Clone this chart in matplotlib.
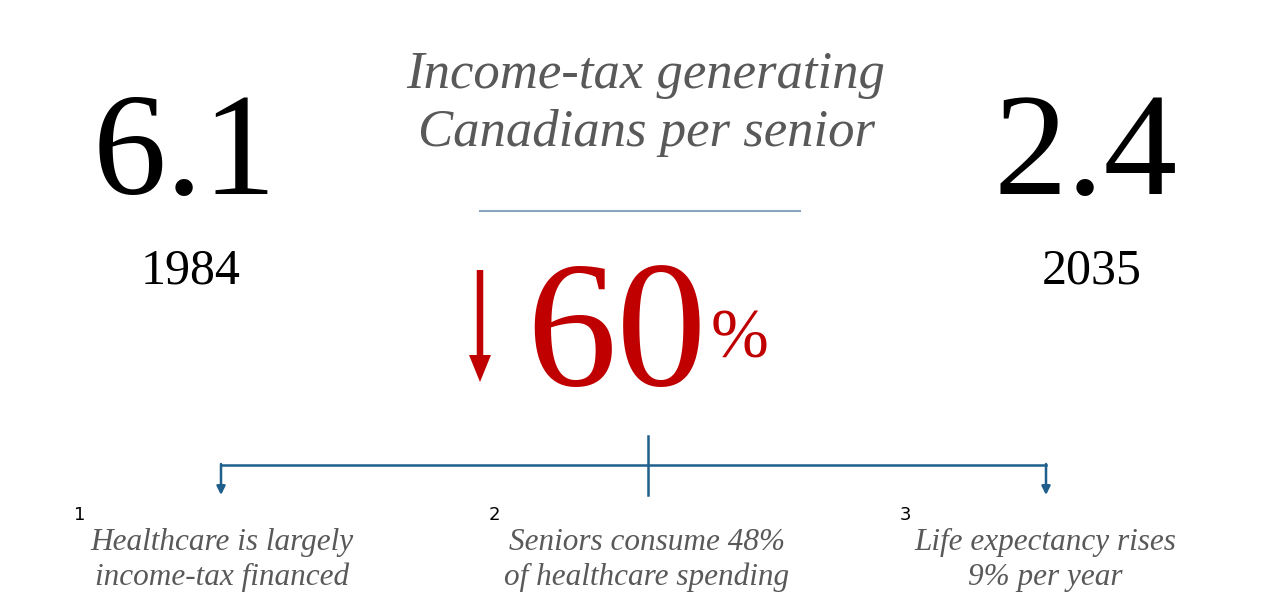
import matplotlib
matplotlib.use("Agg")
import matplotlib.pyplot as plt
from matplotlib.patches import FancyArrow

# data
years = ["1984", "2035"]
ratios = ["6.1", "2.4"]
title_lines = ["Income-tax generating", "Canadians per senior"]
drop_pct = "60"
notes = ["Healthcare is largely\nincome-tax financed",
         "Seniors consume 48%\nof healthcare spending",
         "Life expectancy rises\n9% per year"]
note_nums = ["1", "2", "3"]

SERIF = "Liberation Serif"
GREY = "#595959"
RED = "#c00000"
BLUE = "#1f5f8b"

fig = plt.figure(figsize=(12.8, 6.15), dpi=100)
ax = fig.add_axes([0, 0, 1, 1])
ax.set_xlim(0, 1280)
ax.set_ylim(615, 0)
ax.axis("off")

# big numbers + years
for x, r, yr in zip([185, 1086], ratios, years):
    ax.text(x, 194, r, fontsize=106, family=SERIF, ha="center", va="baseline", color="black")
    ax.text(x + 6, 283, yr, fontsize=36, family=SERIF, ha="center", va="baseline", color="black")

# title
ax.text(646, 88, title_lines[0], fontsize=38, family=SERIF, style="italic",
        ha="center", va="baseline", color=GREY)
ax.text(646, 146, title_lines[1], fontsize=38, family=SERIF, style="italic",
        ha="center", va="baseline", color=GREY)
ax.plot([480, 800], [211, 211], color="#8aa4bf", lw=1.5)

# 60% with arrow
ax.text(617, 385, drop_pct, fontsize=130, family=SERIF, ha="center", va="baseline", color=RED)
ax.text(740, 358, "%", fontsize=50, family=SERIF, ha="center", va="baseline", color=RED)
ax.add_patch(FancyArrow(480, 270, 0, 112, width=6.5, head_width=22, head_length=27,
                        length_includes_head=True, color=RED, lw=0))

# bracket
ax.plot([221, 1046], [465, 465], color=BLUE, lw=1.8)
ax.plot([648, 648], [436, 495], color=BLUE, lw=1.8)
for x in [221, 1046]:
    ax.annotate("", xy=(x, 495), xytext=(x, 464),
                arrowprops=dict(arrowstyle="-|>,head_length=0.5,head_width=0.25",
                                color=BLUE, lw=1.8, shrinkA=0, shrinkB=0))

# footnotes
for cx, nx, num, txt in zip([222, 647, 1045], [80, 494, 905], note_nums, notes):
    ax.text(nx, 520, num, fontsize=13, family="DejaVu Sans", ha="center", va="baseline", color="black")
    ax.text(cx, 560, txt, fontsize=22.5, family=SERIF, style="italic", ha="center",
            va="center", color=GREY, linespacing=1.25)

fig.savefig("out.png", dpi=100, facecolor="white")
